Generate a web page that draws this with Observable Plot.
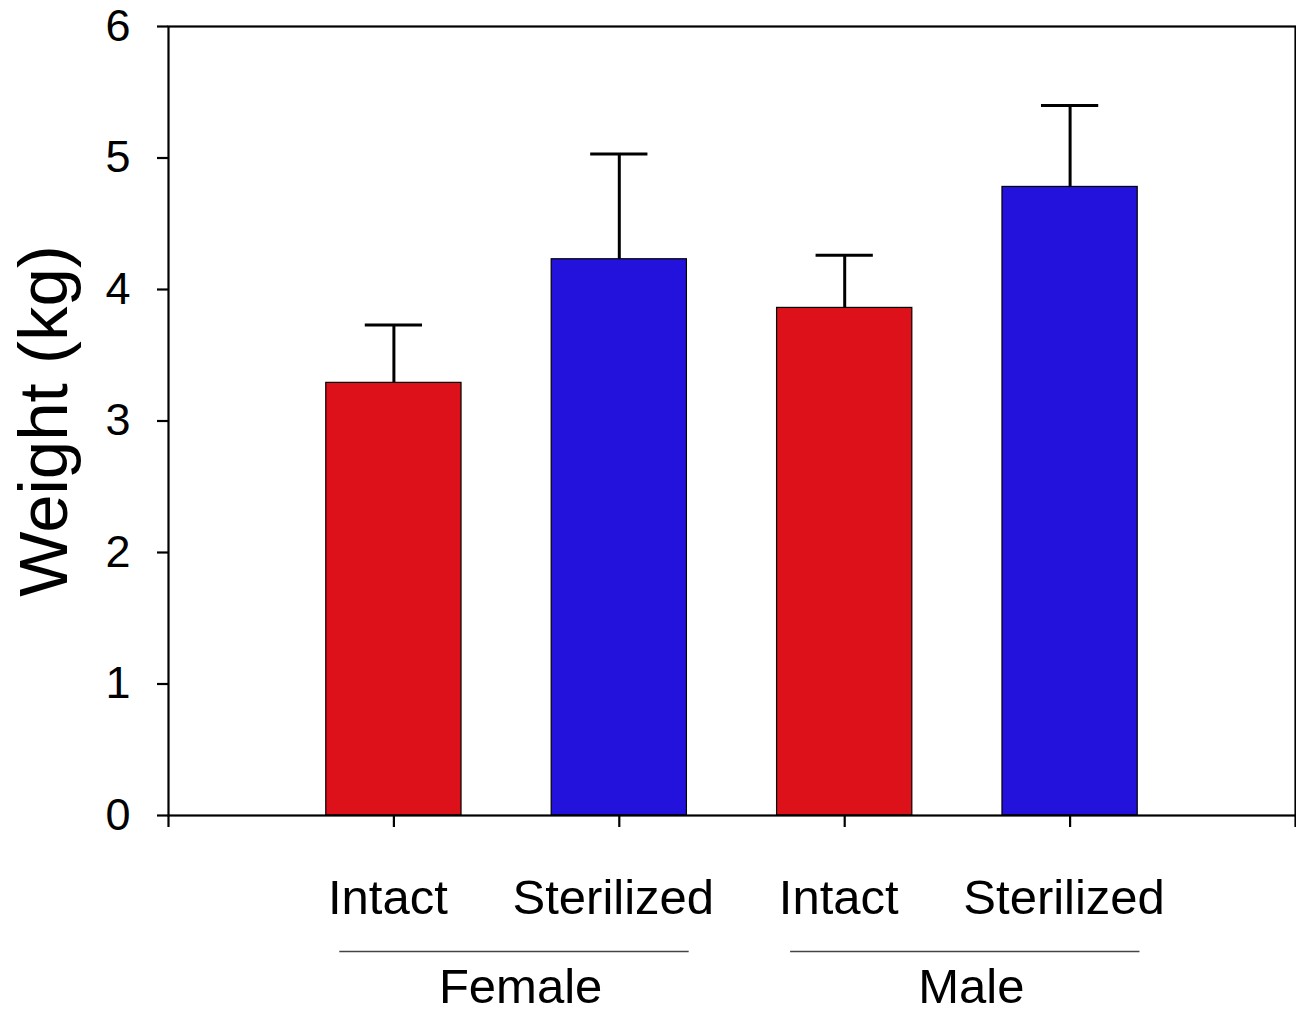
<!DOCTYPE html>
<html>
<head>
<meta charset="utf-8">
<script src="https://cdn.jsdelivr.net/npm/d3@7"></script>
<script src="https://cdn.jsdelivr.net/npm/@observablehq/plot@0.6"></script>
<style>
  html, body { margin: 0; padding: 0; background: #fff; }
</style>
</head>
<body>
<div id="chart"></div>
<script>
const groups = ["Female", "Female", "Male", "Male"];
const conditions = ["Intact", "Sterilized", "Intact", "Sterilized"];
const means = [3.29, 4.23, 3.86, 4.78];
const errors = [0.44, 0.80, 0.40, 0.62];
const yTicks = [0, 1, 2, 3, 4, 5, 6];
const groupNames = ["Female", "Male"];
const colorMap = {Intact: "#dc1119", Sterilized: "#2212dc"};

const data = conditions.map((c, i) => ({
  pos: i + 1,
  group: groups[i],
  condition: c,
  mean: means[i],
  top: means[i] + errors[i]
}));

const groupData = groupNames.map(g => {
  const members = data.filter(d => d.group === g);
  const first = d3.min(members, d => d.pos);
  const last = d3.max(members, d => d.pos);
  return {group: g, x1: first - 0.24, x2: last + 0.31, mid: (first + last) / 2};
});

const halfBar = 0.3;
const halfCap = 0.127;

const chart = Plot.plot({
  width: 1296,
  height: 1014,
  marginLeft: 168,
  marginRight: 1,
  marginTop: 26,
  marginBottom: 199,
  style: {fontFamily: "'Liberation Sans', Arial, sans-serif", fontSize: "45px", color: "#000", background: "#fff"},
  x: {domain: [0, 5], axis: null},
  y: {domain: [0, 6], axis: null},
  marks: [
    Plot.rectY(data, {
      x1: d => d.pos - halfBar, x2: d => d.pos + halfBar,
      y1: 0, y2: "mean",
      fill: d => colorMap[d.condition], stroke: "#000", strokeWidth: 1.2
    }),
    Plot.ruleX(data, {x: "pos", y1: "mean", y2: "top", stroke: "#000", strokeWidth: 3}),
    Plot.ruleY(data, {y: "top", x1: d => d.pos - halfCap, x2: d => d.pos + halfCap, stroke: "#000", strokeWidth: 3}),
    Plot.frame({stroke: "#000", strokeWidth: 2.2}),
    Plot.axisY({ticks: yTicks, tickFormat: d => String(d), tickSize: 11, tickPadding: 27, label: null, strokeWidth: 2.2, fontSize: 45}),
    Plot.axisX({ticks: [0, 1, 2, 3, 4, 5], tickFormat: () => "", tickSize: 12, label: null, strokeWidth: 2.2}),
    Plot.text(["Weight (kg)"], {frameAnchor: "left", textAnchor: "middle", rotate: -90, dx: -124, fontSize: 69, fill: "#000"}),
    Plot.text(data, {x: "pos", frameAnchor: "bottom", dy: 98, dx: -6, text: "condition", fontSize: 49, fill: "#000"}),
    Plot.ruleY(groupData, {y: 0, x1: "x1", x2: "x2", dy: 136, stroke: "#444", strokeWidth: 1.5}),
    Plot.text(groupData, {x: "mid", frameAnchor: "bottom", dy: 187, dx: 14, text: "group", fontSize: 49, fill: "#000"})
  ]
});
document.getElementById("chart").appendChild(chart);
</script>
</body>
</html>
